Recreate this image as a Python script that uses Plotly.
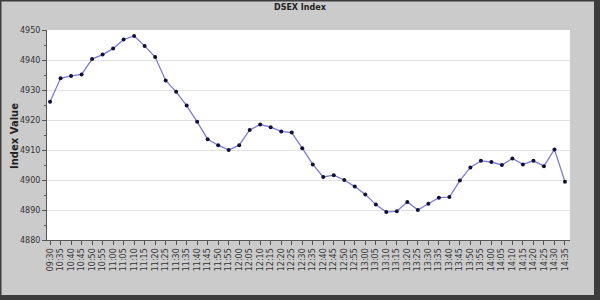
import plotly.graph_objects as go

times = ["09:30"] + [f"{10 + (35 + 5*i)//60:02d}:{(35 + 5*i) % 60:02d}" for i in range(49)]
values = [4926.1, 4933.9, 4934.7, 4935.2, 4940.3, 4941.8, 4943.8, 4946.8, 4948.0, 4944.7,
          4941.0, 4933.2, 4929.4, 4924.8, 4919.4, 4913.6, 4911.6, 4910.0, 4911.6, 4916.7,
          4918.5, 4917.6, 4916.2, 4915.8, 4910.6, 4905.2, 4901.0, 4901.6, 4900.0, 4897.8,
          4895.2, 4891.8, 4889.3, 4889.6, 4892.7, 4890.0, 4892.1, 4894.1, 4894.3, 4899.8,
          4904.2, 4906.4, 4906.0, 4905.0, 4907.2, 4905.2, 4906.4, 4904.6, 4910.2, 4899.4]
title_text = "DSEX Index"
y_title = "Index Value"

W, H = 600, 300
L, R, T, B = 47, 30, 30, 60
pw, ph = W - L - R, H - T - B

def px(xp):
    return (xp - L) / pw

def py(yp):
    return (H - B - yp) / ph

fig = go.Figure()
fig.add_trace(go.Scatter(
    x=list(range(len(times))), y=values, mode="lines+markers",
    line=dict(color="#7c7cd8", width=1.3),
    marker=dict(color="#111133", size=4),
    hoverinfo="skip", showlegend=False))

dark = "#3c3c3c"
shapes = [
    dict(type="rect", xref="paper", yref="paper", x0=px(594), x1=px(601), y0=py(-1), y1=py(301),
         fillcolor=dark, line=dict(width=0)),
    dict(type="rect", xref="paper", yref="paper", x0=px(-1), x1=px(601), y0=py(301), y1=py(295),
         fillcolor=dark, line=dict(width=0)),
    dict(type="rect", xref="paper", yref="paper", x0=px(-1), x1=px(601), y0=py(1.5), y1=py(-1),
         fillcolor=dark, line=dict(width=0)),
    dict(type="rect", xref="paper", yref="paper", x0=px(-1), x1=px(1.5), y0=py(301), y1=py(-1),
         fillcolor=dark, line=dict(width=0)),
]

fig.update_layout(
    width=W, height=H,
    margin=dict(l=L, r=R, t=T, b=B, pad=0),
    paper_bgcolor="#cbcbcb", plot_bgcolor="white",
    shapes=shapes,
    annotations=[
        dict(text="<b>" + title_text + "</b>", xref="paper", yref="paper",
             x=px(300), y=py(8), showarrow=False, xanchor="center", yanchor="middle",
             font=dict(family="DejaVu Sans", size=8, color="#222")),
        dict(text="<b>" + y_title + "</b>", xref="paper", yref="paper", textangle=-90,
             x=px(14), y=py(136), showarrow=False, xanchor="center", yanchor="middle",
             font=dict(family="DejaVu Sans", size=10, color="#222")),
    ],
    xaxis=dict(
        range=[-0.29, 49.48], tickmode="array", tickvals=list(range(len(times))), ticktext=times,
        tickangle=-90, ticks="outside", ticklen=4, tickcolor="#555",
        showline=True, linecolor="#555", linewidth=1, showgrid=False, zeroline=False,
        tickfont=dict(family="DejaVu Sans", size=8, color="#333")),
    yaxis=dict(
        range=[4880, 4950], dtick=10, ticks="outside", ticklen=4, tickcolor="#555",
        showline=True, linecolor="#555", linewidth=1,
        showgrid=True, gridcolor="#e2e2e2", gridwidth=1, zeroline=False,
        minor=dict(dtick=5, ticks="outside", ticklen=2, tickcolor="#555", showgrid=False),
        tickfont=dict(family="DejaVu Sans", size=8, color="#333")),
)

fig.write_html("out.html")
